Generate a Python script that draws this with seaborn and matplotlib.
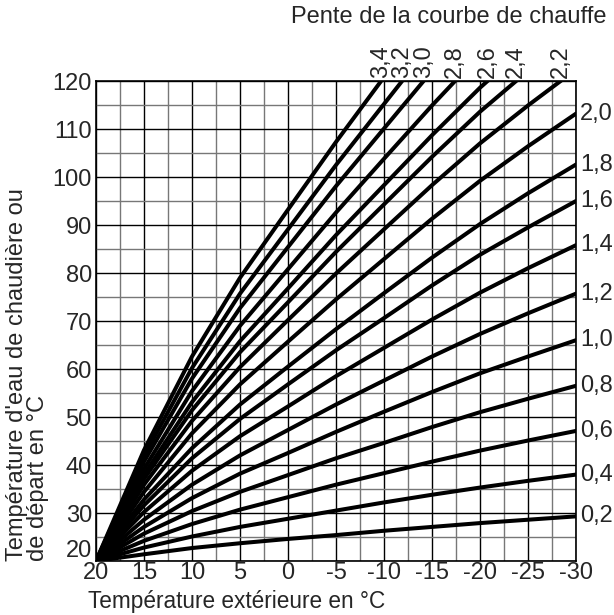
import numpy as np
import pandas as pd
import matplotlib
matplotlib.use("Agg")
import matplotlib.pyplot as plt
import matplotlib.transforms as mtransforms
import seaborn as sns

# Outdoor temperature (x) at which each curve was read
ext_temp = [20, 15, 10, 5, 0, -5, -10, -15, -20, -25, -30]

# Flow temperature for each slope (values past 120 are cut by the frame)
pente_02 = [20, 21.4, 22.7, 23.7, 24.6, 25.4, 26.3, 27.1, 27.9, 28.6, 29.3]
pente_04 = [20, 22.8, 25.1, 27.1, 28.8, 30.5, 32.2, 33.8, 35.3, 36.7, 38.0]
pente_06 = [20, 24.2, 27.7, 30.7, 33.3, 35.9, 38.3, 40.7, 43.0, 45.1, 47.1]
pente_08 = [20, 25.7, 30.4, 34.4, 37.9, 41.4, 44.6, 47.9, 51.0, 53.8, 56.5]
pente_10 = [20, 27.1, 33.1, 38.2, 42.5, 46.9, 51.1, 55.2, 59.1, 62.6, 66.0]
pente_12 = [20, 28.6, 35.9, 42.0, 47.3, 52.6, 57.6, 62.6, 67.3, 71.6, 75.7]
pente_14 = [20, 30.2, 38.8, 46.0, 52.2, 58.5, 64.4, 70.3, 75.9, 81.0, 85.8]
pente_16 = [20, 31.6, 41.4, 49.6, 56.8, 63.9, 70.6, 77.4, 83.8, 89.5, 95.0]
pente_18 = [20, 32.8, 43.5, 52.6, 60.5, 68.3, 75.8, 83.2, 90.2, 96.6, 102.6]
pente_20 = [20, 34.4, 46.6, 56.8, 65.7, 74.5, 82.9, 91.3, 99.2, 106.4, 113.2]
pente_22 = [20, 35.9, 49.2, 60.4, 70.2, 79.9, 89.1, 98.3, 107.0, 114.9, 122.4]
pente_24 = [20, 37.1, 51.4, 63.5, 73.9, 84.4, 94.3, 104.2, 113.6, 122.1, 130.1]
pente_26 = [20, 38.0, 53.1, 65.8, 76.8, 87.9, 98.3, 108.7, 118.6, 127.5, 136.0]
pente_28 = [20, 39.2, 55.4, 69.0, 80.8, 92.6, 103.8, 114.9, 125.5, 135.0, 144.1]
pente_30 = [20, 40.7, 58.0, 72.7, 85.4, 98.1, 110.1, 122.1, 133.5, 143.8, 153.5]
pente_32 = [20, 41.9, 60.2, 75.7, 89.1, 102.5, 115.2, 127.9, 139.9, 150.7, 161.0]
pente_34 = [20, 43.1, 62.6, 79.0, 93.2, 107.3, 120.8, 134.2, 146.9, 158.4, 169.3]

labels_right = ["0,2", "0,4", "0,6", "0,8", "1,0", "1,2", "1,4", "1,6", "1,8", "2,0"]
labels_top = ["2,2", "2,4", "2,6", "2,8", "3,0", "3,2", "3,4"]
curves = [pente_02, pente_04, pente_06, pente_08, pente_10, pente_12, pente_14,
          pente_16, pente_18, pente_20, pente_22, pente_24, pente_26, pente_28,
          pente_30, pente_32, pente_34]
curve_labels = labels_right + labels_top

x_ticks = [20, 15, 10, 5, 0, -5, -10, -15, -20, -25, -30]
x_tick_labels = ["20", "15", "10", "5", "0", "-5", "-10", "-15", "-20", "-25", "-30"]
y_ticks = [20, 30, 40, 50, 60, 70, 80, 90, 100, 110, 120]

rows = []
for lab, ys in zip(curve_labels, curves):
    for x, y in zip(ext_temp, ys):
        rows.append({"ext": x, "depart": y, "pente": lab})
df = pd.DataFrame(rows)

sns.set_style("white")
plt.rcParams["font.family"] = ["Liberation Sans", "DejaVu Sans"]
FS = 17

fig = plt.figure(figsize=(6.14, 6.15), dpi=100)
ax = fig.add_axes([96 / 614, 1 - 561 / 615, 480 / 614, 480 / 615])

# grid: black every 5 / 10, grey half steps
for x in np.arange(-30, 20.1, 2.5):
    major = x % 5 == 0
    ax.axvline(x, color="black" if major else "#777777", lw=1.0, zorder=1)
for y in np.arange(20, 120.1, 5):
    major = y % 10 == 0
    ax.axhline(y, color="black" if major else "#777777", lw=1.0, zorder=1)

sns.lineplot(data=df, x="ext", y="depart", hue="pente", palette=["black"] * len(curves),
             legend=False, linewidth=2.9, estimator=None, sort=False, ax=ax, zorder=3)

ax.set_xlim(20, -30)
ax.set_ylim(20, 120)
ax.set_xticks(x_ticks)
ax.set_xticklabels(x_tick_labels, fontsize=FS)
ax.set_yticks(y_ticks)
ax.set_yticklabels([str(v) for v in y_ticks], fontsize=FS)
ax.tick_params(axis="y", length=0, pad=3)
ax.tick_params(axis="x", length=0, pad=1)
ax.set_xlabel("")
ax.set_ylabel("")
for s in ax.spines.values():
    s.set_color("black")
    s.set_linewidth(1.2)

# lift the bottom "20" of the y axis so it sits above the x-axis "20"
lbl20 = ax.get_yticklabels()[0]
lbl20.set_transform(lbl20.get_transform() + mtransforms.ScaledTranslation(0, 9 / 72, fig.dpi_scale_trans))

# labels at right edge (value at -30)
for lab, ys in zip(labels_right, curves[:10]):
    ax.annotate(lab, xy=(-30, ys[-1]), xytext=(3, 0), textcoords="offset points",
                ha="left", va="center", fontsize=FS, annotation_clip=False)

# labels at top edge (where the curve reaches 120)
for lab, ys in zip(labels_top, curves[10:]):
    xc = np.interp(120, ys, ext_temp)
    ax.annotate(lab, xy=(xc, 120), xytext=(0, 2), textcoords="offset points",
                ha="center", va="bottom", rotation=90, fontsize=FS, annotation_clip=False)

fig.text(0.988, 0.99, "Pente de la courbe de chauffe", ha="right", va="top", fontsize=FS)
fig.text(88 / 614, 0.003, "Température extérieure en °C", ha="left", va="bottom", fontsize=16.3)
fig.text(0.01, 1 - 561 / 615, "Température d'eau de chaudière ou\nde départ en °C",
         rotation=90, ha="left", va="bottom", multialignment="left", fontsize=FS,
         linespacing=0.95)

fig.savefig("out.png", dpi=100)
